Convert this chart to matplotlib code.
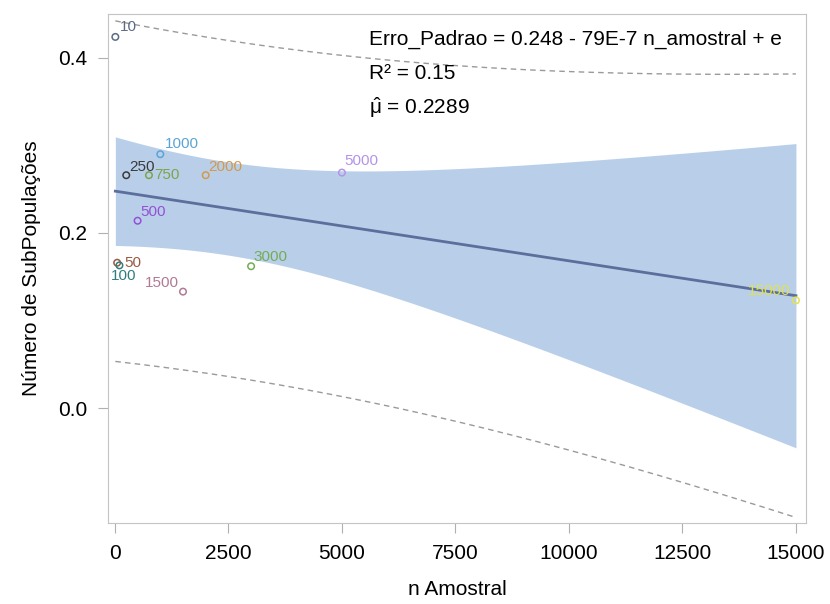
import numpy as np
import matplotlib.pyplot as plt

plt.rcParams['font.family'] = ['Liberation Sans', 'DejaVu Sans']
plt.rcParams['mathtext.fontset'] = 'custom'
plt.rcParams['mathtext.rm'] = 'Liberation Sans'
plt.rcParams['mathtext.it'] = 'Liberation Sans'

# sample sizes and standard error values
n_amostral = [10, 50, 100, 250, 500, 750, 1000, 1500, 2000, 3000, 5000, 15000]
erro_padrao = [0.424, 0.166, 0.163, 0.266, 0.214, 0.266, 0.290, 0.133, 0.266, 0.162, 0.269, 0.123]
point_labels = ['10', '50', '100', '250', '500', '750', '1000', '1500', '2000', '3000', '5000', '15000']
point_colors = ['#5b6b85', '#9a5a42', '#2f7f7c', '#3a3a3a', '#9450d6', '#7aa54c',
                '#5aa4d6', '#b07a94', '#d29a4c', '#72ad55', '#b394e6', '#e2e24a']
# label offsets in points (dx, dy, ha)
label_offsets = [(3, 7, 'left'), (5, 0, 'left'), (-6, -8, 'left'), (2, 6, 'left'),
                 (2, 6, 'left'), (4, 0, 'left'), (3, 7, 'left'), (-3, 6, 'right'),
                 (2, 6, 'left'), (2, 7, 'left'), (2, 8, 'left'), (-4, 7, 'right')]

T_CRIT = 2.228  # t(0.975, 10 df)

x = np.array(n_amostral, dtype=float)
y = np.array(erro_padrao)
n = len(x)
slope, intercept = np.polyfit(x, y, 1)
resid = y - (intercept + slope * x)
s = np.sqrt(np.sum(resid ** 2) / (n - 2))
sxx = np.sum((x - x.mean()) ** 2)

xs = np.linspace(x.min(), x.max(), 200)
yhat = intercept + slope * xs
se_mean = s * np.sqrt(1 / n + (xs - x.mean()) ** 2 / sxx)
se_pred = s * np.sqrt(1 + 1 / n + (xs - x.mean()) ** 2 / sxx)

fig = plt.figure(figsize=(8.3, 6.04), dpi=100)
ax = fig.add_axes([0.130, 0.134, 0.841, 0.843])

ax.fill_between(xs, yhat - T_CRIT * se_mean, yhat + T_CRIT * se_mean,
                color='#b9cfe9', lw=0)
ax.plot(xs, yhat, color='#5c6f9c', lw=2)
ax.plot(xs, yhat + T_CRIT * se_pred, color='#9a9a9a', lw=1, ls=(0, (4, 3)))
ax.plot(xs, yhat - T_CRIT * se_pred, color='#9a9a9a', lw=1, ls=(0, (4, 3)))

for xi, yi, lab, c, (dx, dy, ha) in zip(n_amostral, erro_padrao, point_labels,
                                        point_colors, label_offsets):
    ax.scatter([xi], [yi], s=22, facecolors='none', edgecolors=c, linewidths=1.1, zorder=3)
    ax.annotate(lab, (xi, yi), xytext=(dx, dy), textcoords='offset points',
                ha=ha, va='center', fontsize=11, color=c)

ax.text(0.374, 0.950, 'Erro_Padrao = 0.248 - 79E-7 n_amostral + e',
        transform=ax.transAxes, fontsize=15, va='center')
ax.text(0.374, 0.882, 'R\u00b2 = 0.15', transform=ax.transAxes, fontsize=15, va='center')
ax.text(0.374, 0.816, r'$\hat{\mu}$ = 0.2289', transform=ax.transAxes, fontsize=15, va='center')

ax.set_xlim(-154, 15220)
ax.set_ylim(-0.1314, 0.4503)
ax.set_xticks([0, 2500, 5000, 7500, 10000, 12500, 15000])
ax.set_yticks([0.0, 0.2, 0.4])
ax.set_yticklabels(['0.0', '0.2', '0.4'])

for sp in ax.spines.values():
    sp.set_color('#c4c4c4')
ax.tick_params(color='#b0b0b0', length=7, pad=8)
ax.tick_params(axis='x', labelsize=15)
ax.tick_params(axis='y', labelsize=15)
ax.set_xlabel('n Amostral', fontsize=15, labelpad=12)
ax.set_ylabel('Número de SubPopulações', fontsize=15, labelpad=12)

fig.savefig('out.png', dpi=100)
